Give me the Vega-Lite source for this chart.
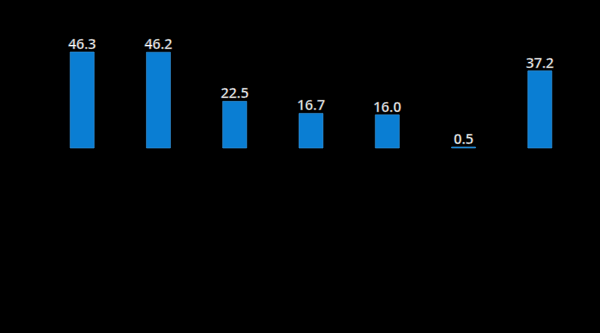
{
  "$schema": "https://vega.github.io/schema/vega-lite/v6.json",
  "width": 600,
  "height": 333,
  "autosize": {"type": "none"},
  "padding": 0,
  "background": "#000000",
  "config": {"view": {"stroke": null}},
  "data": {"values": [
    {"cat": "1", "value": 46.3},
    {"cat": "2", "value": 46.2},
    {"cat": "3", "value": 22.5},
    {"cat": "4", "value": 16.7},
    {"cat": "5", "value": 16.0},
    {"cat": "6", "value": 0.5},
    {"cat": "7", "value": 37.2}
  ]},
  "encoding": {
    "x": {"field": "cat", "type": "nominal", "sort": null, "axis": null,
          "scale": {"range": [44, 578], "paddingInner": 0.685, "paddingOuter": 0.3425}},
    "y": {"field": "value", "type": "quantitative", "axis": null,
          "scale": {"domain": [0, 46.3], "range": [148, 52], "nice": false, "zero": true}}
  },
  "layer": [
    {"mark": {"type": "bar", "color": "#0a7ed3", "stroke": "#3a97dc", "strokeWidth": 0.6}},
    {"mark": {"type": "text", "baseline": "bottom", "dy": 0, "fontSize": 14, "font": "Open Sans", "fontWeight": 600,
              "fill": "#ffffff", "stroke": "#555555", "strokeWidth": 0.4},
     "encoding": {"text": {"field": "value", "type": "quantitative", "format": ".1f"}}}
  ]
}
